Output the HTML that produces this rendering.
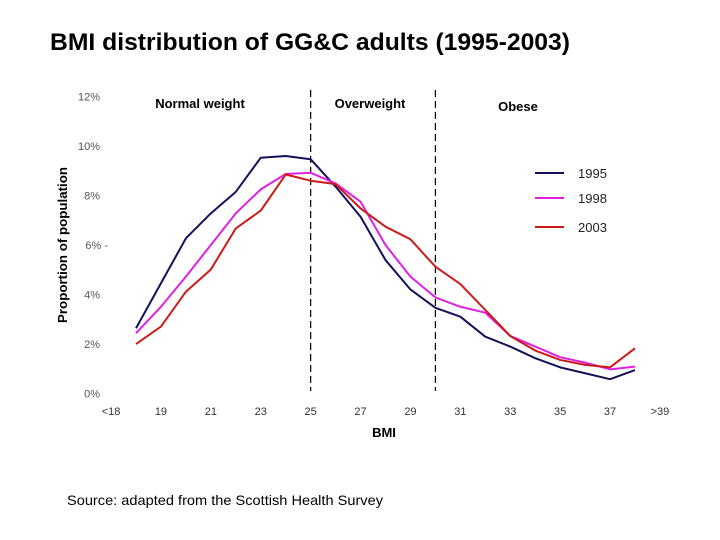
<!DOCTYPE html>
<html><head><meta charset="utf-8"><style>
html,body{margin:0;padding:0;background:#fff;}
svg{display:block;font-family:"Liberation Sans",sans-serif;}
</style></head><body>
<svg id="chart" width="720" height="540" viewBox="0 0 720 540">
<text x="50" y="50" font-size="24" font-weight="bold" textLength="520" lengthAdjust="spacingAndGlyphs" fill="#000">BMI distribution of GG&amp;C adults (1995-2003)</text>
<text transform="translate(67,245) rotate(-90)" text-anchor="middle" font-size="13" font-weight="bold" textLength="156" lengthAdjust="spacingAndGlyphs">Proportion of population</text>
<text x="384" y="437" text-anchor="middle" font-size="13" font-weight="bold">BMI</text>
<text x="67" y="505" font-size="14" textLength="316" lengthAdjust="spacingAndGlyphs">Source: adapted from the Scottish Health Survey</text>
<text x="200" y="108" text-anchor="middle" font-size="13" font-weight="bold">Normal weight</text>
<text x="370" y="108" text-anchor="middle" font-size="13" font-weight="bold">Overweight</text>
<text x="518" y="111" text-anchor="middle" font-size="13" font-weight="bold">Obese</text>
<g id="axes"></g><g id="marks"></g><g id="legend"></g>
</svg>
<script>
const bmi=[18,19,20,21,22,23,24,25,26,27,28,29,30,31,32,33,34,35,36,37,38];
const s1995=[2.63,4.45,6.27,7.28,8.15,9.53,9.6,9.47,8.36,7.14,5.39,4.2,3.46,3.1,2.29,1.89,1.42,1.05,0.81,0.57,0.94];
const s1998=[2.43,3.5,4.72,6.0,7.28,8.25,8.87,8.92,8.49,7.75,6.0,4.72,3.88,3.5,3.26,2.32,1.89,1.46,1.24,0.97,1.08];
const s2003=[1.99,2.7,4.11,5.01,6.67,7.39,8.85,8.6,8.46,7.48,6.74,6.23,5.12,4.42,3.37,2.32,1.73,1.35,1.15,1.05,1.82];
const yTicks=[0,2,4,6,8,10,12];
const xTickLabels=["<18","19","21","23","25","27","29","31","33","35","37",">39"];
const xTickValues=[17,19,21,23,25,27,29,31,33,35,37,39];
const cutoffs=[25,30];
const seriesNames=["1995","1998","2003"];
const NS="http://www.w3.org/2000/svg";
const X=b=>136+(b-18)*24.95;
const Y=v=>393.3-v*24.72;
function mk(tag,attrs,parent){const e=document.createElementNS(NS,tag);for(const k in attrs)e.setAttribute(k,attrs[k]);parent.appendChild(e);return e;}
const axes=document.getElementById('axes'),marks=document.getElementById('marks'),legend=document.getElementById('legend');
yTicks.forEach(v=>{const t=mk('text',{x:100,y:Y(v)+4,'text-anchor':'end','font-size':11,fill:'#555'},axes);


t.textContent=v+'%'+(v===6?' -':'');if(v===6)t.setAttribute('x',108);});
xTickValues.forEach((b,i)=>{const t=mk('text',{x:X(b),y:415,'text-anchor':'middle','font-size':11,fill:'#333'},axes);


t.textContent=xTickLabels[i];});
cutoffs.forEach(b=>{const l=mk('line',{x1:X(b),x2:X(b),y1:90,y2:391,stroke:'#000','stroke-width':1.2,'stroke-dasharray':'7,4'},axes);

});
const series=[s1995,s1998,s2003],colors=["#12125a","#e020e0","#cc1a1a"];
series.forEach((s,i)=>{const p=mk('polyline',{points:s.map((v,j)=>X(bmi[j])+','+Y(v)).join(' '),fill:'none',stroke:colors[i],'stroke-width':2,'stroke-linejoin':'round'},marks);


const ly=[173,198,227][i];
const g=mk('g',{},legend);


mk('line',{x1:535,x2:564,y1:ly,y2:ly,stroke:colors[i],'stroke-width':2},g);
const t=mk('text',{x:578,y:ly+5,'font-size':13,fill:'#222'},g);t.textContent=seriesNames[i];});
</script>
</body></html>
